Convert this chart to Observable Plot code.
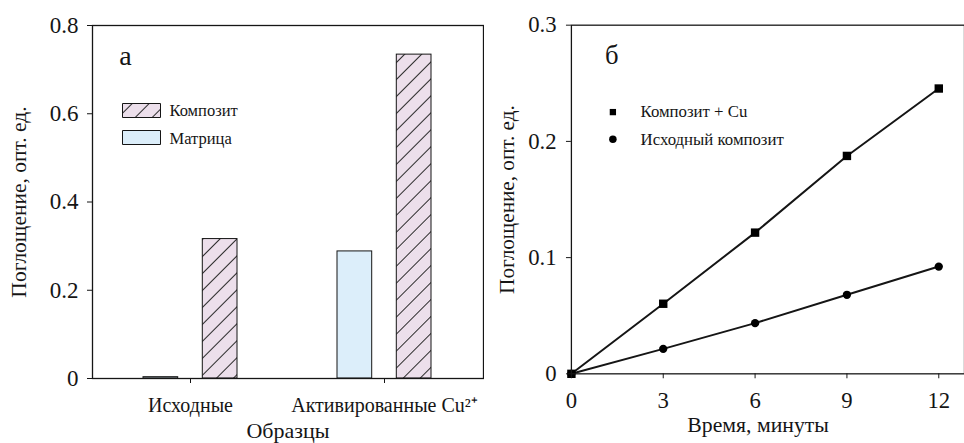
<!DOCTYPE html>
<html><head><meta charset="utf-8">
<script src="https://cdn.jsdelivr.net/npm/d3@7"></script>
<script src="https://cdn.jsdelivr.net/npm/@observablehq/plot@0.6"></script>
<style>
html,body{margin:0;padding:0;background:#fff;overflow:hidden;}
#wrap{position:relative;width:964px;height:443px;overflow:hidden;background:#fff;}
#left,#right{position:absolute;top:0;}
#left{left:0;}
#right{left:483px;}
</style></head><body>
<div id="wrap"><div id="left"></div><div id="right"></div></div>
<script>
// ---- Panel а (bars) ----
const categories = ["Исходные", "Активированные Cu²⁺"];
const seriesNames = ["Композит", "Матрица"];
const matrixValues = [0.003, 0.288];
const compositeValues = [0.316, 0.734];
const leftYTicks = [0, 0.2, 0.4, 0.6, 0.8];
const leftXTitle = "Образцы";
const yTitle = "Поглощение, опт. ед.";
const panelLabels = ["а", "б"];

// ---- Panel б (kinetics) ----
const timeMinutes = [0, 3, 6, 9, 12];
const lineNames = ["Композит + Cu", "Исходный композит"];
const compositeCuValues = [0, 0.0603, 0.1215, 0.1875, 0.2455];
const initialCompositeValues = [0, 0.0215, 0.0436, 0.068, 0.0923];
const rightXTicks = [0, 3, 6, 9, 12];
const rightYTicks = [0, 0.1, 0.2, 0.3];
const rightXTitle = "Время, минуты";

const FONT = '"Liberation Serif", "Times New Roman", serif';
const INK = "#151515";
const numFmt = d => d === 0 ? "0" : d3.format(".1f")(d);

const matrixRows = categories.map((c, i) => ({category: c, value: matrixValues[i]}));
const compositeRows = categories.map((c, i) => ({category: c, value: compositeValues[i]}));

const rectSymbol = {draw(ctx) { ctx.moveTo(-19, -7); ctx.lineTo(19, -7); ctx.lineTo(19, 7); ctx.lineTo(-19, 7); ctx.closePath(); }};

const left = Plot.plot({
  width: 484, height: 443,
  marginLeft: 92, marginRight: 1, marginTop: 25, marginBottom: 65,
  style: {fontFamily: FONT, fontSize: "20px", color: INK, background: "transparent"},
  x: {type: "band", domain: categories, paddingInner: 0.515, paddingOuter: 0.263, align: 0.5},
  y: {domain: [0, 0.8]},
  marks: [
    Plot.barY(matrixRows, {x: "category", y: "value", fill: "#dceefa", stroke: INK, strokeWidth: 1, insetRight: 59.3}),
    Plot.barY(compositeRows, {x: "category", y: "value", fill: "url(#hatchComposite)", stroke: INK, strokeWidth: 1, insetLeft: 59.3}),
    Plot.frame({stroke: INK, strokeWidth: 1.3}),
    Plot.axisY({ticks: leftYTicks, tickFormat: numFmt, tickSize: 5, tickPadding: 9, label: null, stroke: INK, fontSize: 23}),
    Plot.axisX({tickSize: 5, tickPadding: 14, label: null, stroke: INK, fontSize: 20}),
    Plot.text([leftXTitle], {frameAnchor: "bottom", dy: 52, fontSize: 22, textAnchor: "middle", lineAnchor: "middle", fill: INK}),
    Plot.text([yTitle], {frameAnchor: "left", dx: -73, rotate: -90, fontSize: 21.5, textAnchor: "middle", lineAnchor: "middle", fill: INK}),
    Plot.text([panelLabels[0]], {frameAnchor: "top-left", dx: 33, dy: 31, fontSize: 28, textAnchor: "middle", lineAnchor: "middle", fill: INK}),
    Plot.dot([seriesNames[0]], {frameAnchor: "top-left", dx: 49, dy: 85, symbol: rectSymbol, r: 5, fill: "url(#hatchComposite)", stroke: INK, strokeWidth: 1}),
    Plot.dot([seriesNames[1]], {frameAnchor: "top-left", dx: 49, dy: 112, symbol: rectSymbol, r: 5, fill: "#dceefa", stroke: INK, strokeWidth: 1}),
    Plot.text([seriesNames[0]], {frameAnchor: "top-left", dx: 77, dy: 85, fontSize: 16.5, textAnchor: "start", lineAnchor: "middle", fill: INK}),
    Plot.text([seriesNames[1]], {frameAnchor: "top-left", dx: 77, dy: 113, fontSize: 16.5, textAnchor: "start", lineAnchor: "middle", fill: INK})
  ]
});
d3.select(left).insert("defs", ":first-child").html(
  '<pattern id="hatchComposite" patternUnits="userSpaceOnUse" width="12" height="12" patternTransform="rotate(45)">' +
  '<rect width="12" height="12" fill="#ecdfeb"></rect>' +
  '<line x1="0.5" y1="0" x2="0.5" y2="12" stroke="#2a2a2a" stroke-width="1"></line></pattern>'
);
document.getElementById("left").appendChild(left);

const cuRows = timeMinutes.map((t, i) => ({t, v: compositeCuValues[i]}));
const initRows = timeMinutes.map((t, i) => ({t, v: initialCompositeValues[i]}));

const right = Plot.plot({
  width: 487, height: 443,
  marginLeft: 89, marginRight: 0, marginTop: 25, marginBottom: 65,
  style: {fontFamily: FONT, fontSize: "20px", color: INK, background: "transparent"},
  x: {domain: [0, 12.84]},
  y: {domain: [0, 0.3]},
  marks: [
    Plot.line(cuRows, {x: "t", y: "v", stroke: INK, strokeWidth: 2}),
    Plot.line(initRows, {x: "t", y: "v", stroke: INK, strokeWidth: 2}),
    Plot.dot(cuRows, {x: "t", y: "v", symbol: "square", r: 4.8, fill: "#000"}),
    Plot.dot(initRows, {x: "t", y: "v", symbol: "circle", r: 4.2, fill: "#000"}),
    Plot.frame({stroke: INK, strokeWidth: 1.3}),
    Plot.axisY({ticks: rightYTicks, tickFormat: numFmt, tickSize: 5, tickPadding: 10, label: null, stroke: INK, fontSize: 23}),
    Plot.axisX({ticks: rightXTicks, tickFormat: d => String(d), tickSize: 5, tickPadding: 13, label: null, stroke: INK, fontSize: 23}),
    Plot.text([rightXTitle], {frameAnchor: "bottom", dy: 52, dx: -10, fontSize: 22, textAnchor: "middle", lineAnchor: "middle", fill: INK}),
    Plot.text([yTitle], {frameAnchor: "left", dx: -65, rotate: -90, fontSize: 21.5, textAnchor: "middle", lineAnchor: "middle", fill: INK}),
    Plot.text([panelLabels[1]], {frameAnchor: "top-left", dx: 41, dy: 31, fontSize: 27, textAnchor: "middle", lineAnchor: "middle", fill: INK}),
    Plot.dot([lineNames[0]], {frameAnchor: "top-left", dx: 42, dy: 88, symbol: "square", r: 3.6, fill: "#000"}),
    Plot.dot([lineNames[1]], {frameAnchor: "top-left", dx: 42, dy: 115.5, symbol: "circle", r: 3.8, fill: "#000"}),
    Plot.text([lineNames[0]], {frameAnchor: "top-left", dx: 70, dy: 88, fontSize: 17, textAnchor: "start", lineAnchor: "middle", fill: INK}),
    Plot.text([lineNames[1]], {frameAnchor: "top-left", dx: 70, dy: 116, fontSize: 17, textAnchor: "start", lineAnchor: "middle", fill: INK})
  ]
});
document.getElementById("right").appendChild(right);
</script>
</body></html>
